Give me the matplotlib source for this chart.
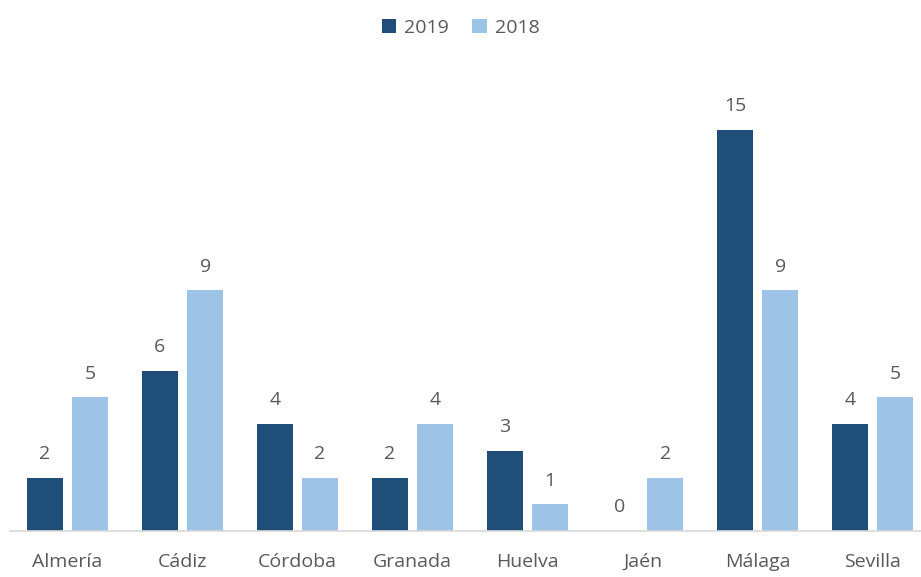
import matplotlib.pyplot as plt
import numpy as np

provinces = ['Almería', 'Cádiz', 'Córdoba', 'Granada', 'Huelva', 'Jaén', 'Málaga', 'Sevilla']
values_2019 = [2, 6, 4, 2, 3, 0, 15, 4]
values_2018 = [5, 9, 2, 4, 1, 2, 9, 5]

dark = '#1F4E79'
light = '#9DC3E6'
text_col = '#595959'

plt.rcParams['font.family'] = ['Open Sans', 'DejaVu Sans']

fig = plt.figure(figsize=(9.21, 5.77), dpi=100)
W, H = 921, 577
ax = fig.add_axes([10 / W, 46 / H, 911 / W, 471 / H])

x = np.arange(len(provinces))
w = 0.31
off = 0.196
b1 = ax.bar(x - off, values_2019, w, color=dark, label='2019')
b2 = ax.bar(x + off, values_2018, w, color=light, label='2018')

for bars in (b1, b2):
    for rect in bars:
        h = rect.get_height()
        ax.text(rect.get_x() + rect.get_width() / 2, h + 0.55, f'{h:g}',
                ha='center', va='bottom', fontsize=14, color=text_col)

ax.set_xlim(-0.5, 7.42)
ax.set_ylim(0, 17.62)
ax.set_xticks(x)
ax.set_xticklabels(provinces, fontsize=14, color=text_col)
ax.tick_params(axis='x', length=0, pad=16)
ax.set_yticks([])
for s in ['top', 'right', 'left']:
    ax.spines[s].set_visible(False)
ax.spines['bottom'].set_color('#D9D9D9')
ax.spines['bottom'].set_linewidth(1.2)

leg = fig.legend(handles=[b1, b2], loc='upper center', bbox_to_anchor=(0.5, 0.998),
                 ncol=2, frameon=False, fontsize=14, handlelength=0.75, handleheight=0.75,
                 columnspacing=1.2, handletextpad=0.4)
for t in leg.get_texts():
    t.set_color(text_col)

fig.savefig('out.png', dpi=100)
